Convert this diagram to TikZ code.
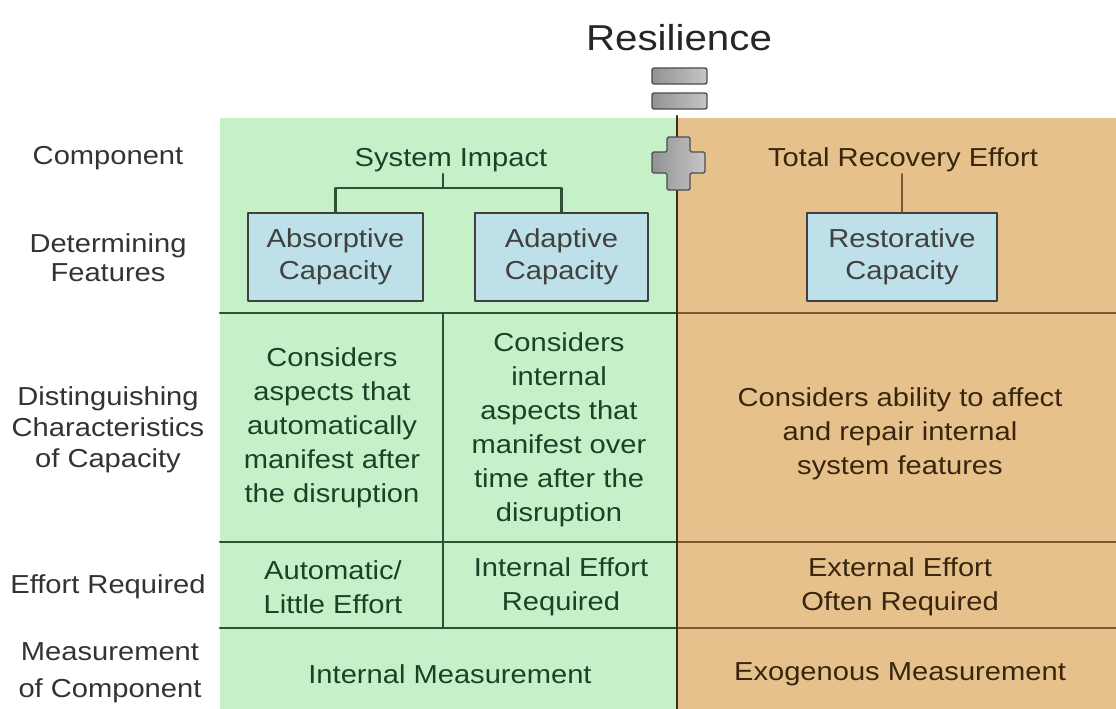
\documentclass[tikz,border=0pt]{standalone}
\usepackage{fontspec}
\setmainfont{Liberation Sans}[FakeStretch=1.12]
\usepackage{xcolor}
\usetikzlibrary{positioning}

\definecolor{mint}{RGB}{198,240,200}
\definecolor{tan}{RGB}{230,193,140}
\definecolor{paleblue}{RGB}{190,224,232}
\definecolor{leafink}{RGB}{26,66,38}
\definecolor{barkink}{RGB}{56,38,14}
\definecolor{greenrule}{RGB}{48,80,54}
\definecolor{brownrule}{RGB}{120,88,44}

\begin{document}
\begin{tikzpicture}[
  x=1pt, y=-1pt,
  line cap=round,
  line join=round,
  every node/.style={font=\fontsize{26}{34}\selectfont, align=center, inner sep=2pt},
  rowlabel/.style={text=black!80, font=\fontsize{26}{31}\selectfont},
  greentext/.style={text=leafink},
  tantext/.style={text=barkink},
  featbox/.style={draw=black!75, line width=2pt, fill=paleblue,
    minimum height=88pt, text=black!75, font=\fontsize{26}{32}\selectfont},
  greenline/.style={draw=greenrule, line width=2.6pt},
  brownline/.style={draw=brownrule, line width=2.6pt},
  signshape/.style={draw=black!70, line width=1.4pt, left color=gray!85,
    right color=gray!45, rounded corners=1.5pt}
]
  \useasboundingbox (0,0) rectangle (1116,709);

  % Backgrounds of the two components
  \fill[mint] (220,118) rectangle (677,709);
  \fill[tan] (677,118) rectangle (1116,709);

  % Row rules
  \draw[greenline] (220,313) -- (677,313);
  \draw[brownline] (677,313) -- (1116,313);
  \draw[greenline] (220,542) -- (677,542);
  \draw[brownline] (677,542) -- (1116,542);
  \draw[greenline] (220,628) -- (677,628);
  \draw[brownline] (677,628) -- (1116,628);
  \draw[greenline] (443,313) -- (443,628);

  % Divider between components
  \draw[line width=2.6pt, draw=black!65!brown] (677,116) -- (677,709);

  % Title and the equals / plus signs
  \node[font=\fontsize{36}{40}\selectfont, text=black!85] (title) at (679,38) {Resilience};
  \draw[signshape, rounded corners=2pt] (652,68) rectangle (707,84);
  \draw[signshape, rounded corners=2pt] (652,93) rectangle (707,109);
  \draw[signshape]
    (667,137) -- (690,137) -- (690,152) -- (705,152) -- (705,173) -- (690,173)
    -- (690,190) -- (667,190) -- (667,173) -- (652,173) -- (652,152) -- (667,152) -- cycle;

  % Row labels
  \node[rowlabel] (lcomp) at (108,158) {Component};
  \node[rowlabel, font=\fontsize{26}{29}\selectfont] (lfeat) at (108,258) {Determining\\Features};
  \node[rowlabel] (lchar) at (108,430) {Distinguishing\\Characteristics\\of Capacity};
  \node[rowlabel] (leffort) at (108,587) {Effort Required};
  \node[rowlabel, font=\fontsize{26}{37}\selectfont] (lmeas) at (110,673) {Measurement\\of Component};

  % Components
  \node[greentext] (sysimpact) at (451,160) {System Impact};
  \node[tantext] (recovery) at (903,160) {Total Recovery Effort};

  % Determining features
  \node[featbox, minimum width=175pt] (absorb) at (335.5,257) {Absorptive\\Capacity};
  \node[featbox, minimum width=173pt] (adapt) at (561.5,257) {Adaptive\\Capacity};
  \node[featbox, minimum width=190pt] (restore) at (902,257) {Restorative\\Capacity};

  \coordinate (fork) at (443,188);
  \draw[greenline] (fork |- sysimpact.south) -- (fork);
  \draw[greenline] (absorb.north) |- (fork) -| (adapt.north);
  \draw[brownline] (recovery.south -| restore.north) -- (restore.north);

  % Distinguishing characteristics
  \node[greentext] (absorbnote) at (332,428) {Considers\\aspects that\\automatically\\manifest after\\the disruption};
  \node[greentext] (adaptnote) at (559,430) {Considers\\internal\\aspects that\\manifest over\\time after the\\disruption};
  \node[tantext] (restorenote) at (900,434) {Considers ability to affect\\and repair internal\\system features};

  % Effort required
  \node[greentext] (absorbeffort) at (333,587) {Automatic/\\Little Effort};
  \node[greentext] (adapteffort) at (561,587) {Internal Effort\\Required};
  \node[tantext] (restoreeffort) at (900,587) {External Effort\\Often Required};

  % Measurement
  \node[greentext] (innermeas) at (450,674) {Internal Measurement};
  \node[tantext] (outermeas) at (900,674) {Exogenous Measurement};
\end{tikzpicture}
\end{document}
